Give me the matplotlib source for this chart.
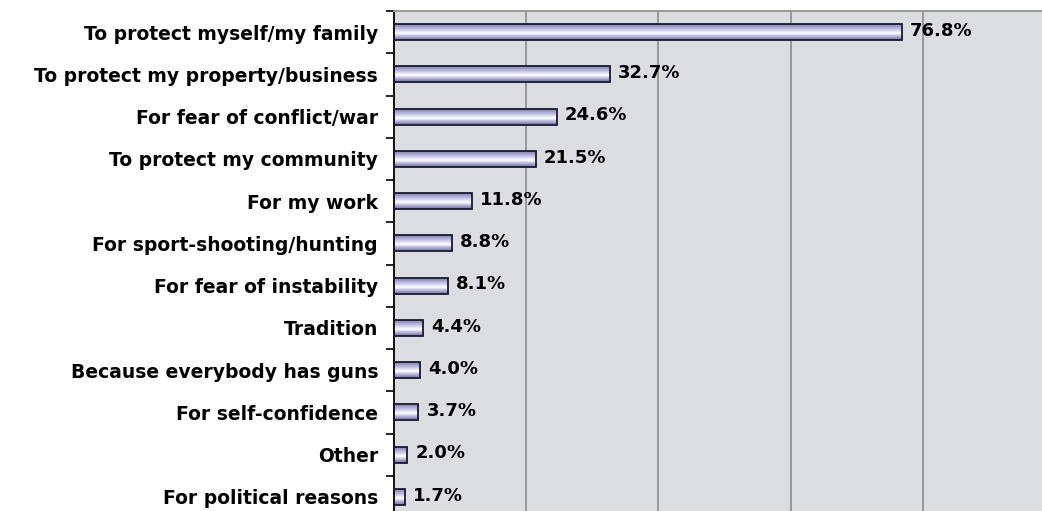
import numpy as np
import matplotlib.pyplot as plt
from matplotlib.colors import LinearSegmentedColormap

categories = [
    "To protect myself/my family",
    "To protect my property/business",
    "For fear of conflict/war",
    "To protect my community",
    "For my work",
    "For sport-shooting/hunting",
    "For fear of instability",
    "Tradition",
    "Because everybody has guns",
    "For self-confidence",
    "Other",
    "For political reasons",
]
values = [76.8, 32.7, 24.6, 21.5, 11.8, 8.8, 8.1, 4.4, 4.0, 3.7, 2.0, 1.7]
value_labels = ["76.8%", "32.7%", "24.6%", "21.5%", "11.8%", "8.8%", "8.1%",
                "4.4%", "4.0%", "3.7%", "2.0%", "1.7%"]

plt.rcParams['font.family'] = ['DejaVu Sans']

fig = plt.figure(figsize=(10.42, 5.11), dpi=100)
ax = fig.add_axes([394 / 1042, -7 / 511, 661 / 1042, 507 / 511])
ax.set_facecolor('#dcdde0')

n = len(categories)
y = np.arange(n)
bar_h = 0.38

bars = ax.barh(y, values, height=bar_h, color='none', edgecolor='#1a1a2e',
               linewidth=1.3, zorder=3)

# lavender-to-white band shading inside each bar
grad_cmap = LinearSegmentedColormap.from_list(
    'band', [(0.0, '#7676a8'), (0.2, '#9e9ecc'), (0.42, '#d4d4ee'),
             (0.6, '#ffffff'), (0.8, '#b0b0d6'), (1.0, '#7070a2')])
grad = np.linspace(0, 1, 64).reshape(-1, 1)
for rect, v in zip(bars, values):
    y0 = rect.get_y()
    im = ax.imshow(grad, cmap=grad_cmap, aspect='auto',
                   extent=[0, v, y0 + bar_h, y0], origin='upper',
                   interpolation='bilinear', zorder=2)
    im.set_clip_path(rect)

for yi, v, lab in zip(y, values, value_labels):
    ax.text(v + 1.2, yi - 0.03, lab, va='center', ha='left', fontsize=13,
            fontweight='bold', color='black', zorder=4)

ax.set_xlim(0, 100)
ax.set_ylim(n - 0.5, -0.5)
ax.set_xticks([20, 40, 60, 80])
ax.tick_params(axis='x', length=0, labelbottom=False)
ax.xaxis.grid(True, color='#999999', linewidth=1.4, zorder=1)
ax.set_axisbelow(True)

ax.set_yticks(y)
ax.set_yticklabels(categories, fontsize=13.5, fontweight='bold')
ax.set_yticks(np.arange(n + 1) - 0.5, minor=True)
ax.tick_params(axis='y', which='major', length=0, pad=11.5)
ax.tick_params(axis='y', which='minor', length=6, width=1.2, color='black')

for side in ['right', 'bottom']:
    ax.spines[side].set_visible(False)
ax.spines['left'].set_color('black')
ax.spines['left'].set_linewidth(1.3)
ax.spines['top'].set_color('#999999')
ax.spines['top'].set_linewidth(1.4)

fig.savefig('out.png', dpi=100)
